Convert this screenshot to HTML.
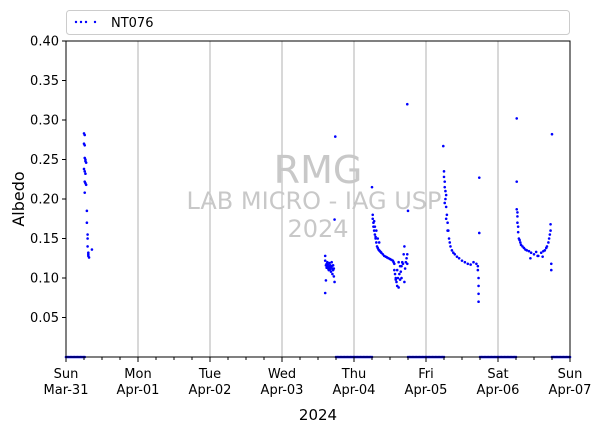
<!DOCTYPE html>
<html><head><meta charset="utf-8"><style>
body{margin:0;background:#fff;font-family:"Liberation Sans","DejaVu Sans",sans-serif}
svg text{font-family:"DejaVu Sans","Liberation Sans",sans-serif}
</style></head><body>
<svg id="chart" width="602" height="433" viewBox="0 0 602 433" xmlns="http://www.w3.org/2000/svg">
<rect width="602" height="433" fill="#fff"/>
<g id="grid"></g>
<g id="watermark" fill="#c8c8c8" text-anchor="middle">
<text x="318" y="183" font-size="38">RMG</text>
<text x="314" y="209" font-size="24">LAB MICRO - IAG USP</text>
<text x="318" y="237" font-size="24">2024</text>
</g>
<g id="marks"></g>
<rect x="66" y="41" width="504" height="316" fill="none" stroke="#000" stroke-width="1"/>
<g id="axes"></g>
<text x="318" y="420" font-size="15" text-anchor="middle">2024</text>
<text transform="translate(24,199) rotate(-90)" font-size="16" text-anchor="middle">Albedo</text>
<g>
<rect x="66.5" y="10.5" width="503" height="24" rx="3" fill="#fff" stroke="#ccc"/>
<g fill="#0000ff"><circle cx="76" cy="22" r="1.2"/><circle cx="81" cy="22" r="1.2"/><circle cx="86" cy="22" r="1.2"/><circle cx="95" cy="22" r="1.2"/></g>
<text x="111" y="27" font-size="13">NT076</text>
</g>
</svg>
<script>
const yTicks=[0.05,0.10,0.15,0.20,0.25,0.30,0.35,0.40];
const dayTicks=[0,1,2,3,4,5,6,7];
const dayNames=["Sun","Mon","Tue","Wed","Thu","Fri","Sat","Sun"];
const dateNames=["Mar-31","Apr-01","Apr-02","Apr-03","Apr-04","Apr-05","Apr-06","Apr-07"];
const zeroTimes=[0,0.02,0.04,0.06,0.08,0.10,0.12,0.14,0.16,0.18,0.20,0.22,0.24,0.26,
3.75,3.77,3.79,3.81,3.83,3.85,3.87,3.89,3.91,3.93,3.95,3.97,3.99,4.01,4.03,4.05,4.07,4.09,4.11,4.13,4.15,4.17,4.19,4.21,4.23,4.25,
4.75,4.77,4.79,4.81,4.83,4.85,4.87,4.89,4.91,4.93,4.95,4.97,4.99,5.01,5.03,5.05,5.07,5.09,5.11,5.13,5.15,5.17,5.19,5.21,5.23,5.25,
5.75,5.77,5.79,5.81,5.83,5.85,5.87,5.89,5.91,5.93,5.95,5.97,5.99,6.01,6.03,6.05,6.07,6.09,6.11,6.13,6.15,6.17,6.19,6.21,6.23,6.25,
6.75,6.77,6.79,6.81,6.83,6.85,6.87,6.89,6.91,6.93,6.95,6.97,6.99,7.0];
const times=[0.25,0.26,0.25,0.26,0.26,0.27,0.27,0.28,0.25,0.26,0.27,0.26,0.27,0.28,0.26,0.29,0.29,0.30,0.30,0.30,0.31,0.31,0.32,0.31,0.36,
3.60,3.60,3.61,3.62,3.62,3.63,3.63,3.64,3.64,3.65,
3.65,3.66,3.66,3.67,3.67,3.68,3.68,3.69,3.69,3.70,
3.70,3.71,3.71,3.72,3.72,3.73,3.61,3.60,3.73,3.74,
4.25,4.26,4.26,4.27,4.27,4.28,4.28,4.29,4.30,4.30,
4.31,4.32,4.33,4.34,4.35,4.36,4.37,4.38,4.40,4.42,
4.44,4.46,4.48,4.50,4.52,4.54,4.55,4.56,4.57,4.58,
4.59,4.60,4.61,4.62,4.63,4.64,4.65,4.66,4.67,4.68,
4.69,4.70,4.71,4.72,4.73,4.74,4.74,4.75,4.74,4.56,
4.58,4.62,4.66,4.70,4.60,4.64,4.29,4.31,4.33,4.35,
5.24,5.25,5.25,5.26,5.26,5.27,5.27,5.28,5.28,5.29,
5.30,5.31,5.32,5.33,5.34,5.36,5.38,5.40,5.43,5.46,
5.50,5.54,5.58,5.62,5.66,5.70,5.72,5.72,5.73,5.73,
5.73,5.73,5.74,5.74,5.26,5.28,5.30,
6.26,6.26,6.26,6.27,6.27,6.27,6.28,6.28,6.29,6.30,6.31,6.32,6.34,6.36,6.38,6.40,6.43,6.46,6.50,6.53,6.56,6.60,6.63,6.65,6.67,6.68,6.70,6.71,6.72,6.73,6.73,6.74,6.74,6.75,6.45,6.55,6.62];
const albedo=[.283,.281,.27,.268,.252,.25,.248,.246,.238,.235,.232,.222,.22,.218,.208,.185,.17,.155,.15,.14,.132,.128,.126,.13,.136,
.128,.122,.116,.113,.118,.115,.12,.112,.117,.11,
.114,.119,.113,.116,.111,.114,.108,.12,.115,.112,
.105,.11,.116,.112,.102,.095,.097,.081,.174,.279,
.215,.18,.175,.17,.165,.172,.16,.155,.15,.152,
.145,.14,.138,.136,.135,.134,.133,.132,.13,.128,
.127,.126,.125,.124,.123,.122,.12,.118,.105,.1,
.095,.09,.1,.12,.105,.098,.108,.115,.12,.118,
.13,.14,.112,.12,.125,.13,.32,.185,.118,.11,
.098,.088,.1,.095,.11,.115,.165,.16,.15,.145,
.267,.235,.228,.222,.215,.21,.2,.205,.19,.18,
.17,.16,.15,.145,.14,.135,.132,.13,.127,.125,
.122,.12,.118,.117,.12,.118,.115,.11,.1,.09,
.08,.07,.157,.227,.195,.175,.16,
.302,.222,.187,.183,.178,.17,.165,.158,.15,.148,.145,.142,.14,.138,.136,.135,.134,.132,.13,.133,.128,.132,.134,.135,.138,.14,.145,.15,.155,.16,.168,.118,.11,.282,.125,.128,.127];
const X0=66,X1=570,Y0=357,Y1=41;
const xs=d=>X0+(X1-X0)*d/7;
const ys=v=>Y0-(Y0-Y1)*v/0.4;
const NS="http://www.w3.org/2000/svg";
function mk(tag,attrs,parent){const e=document.createElementNS(NS,tag);for(const k in attrs)e.setAttribute(k,attrs[k]);parent.appendChild(e);return e;}
const grid=document.getElementById('grid'),axes=document.getElementById('axes'),marks=document.getElementById('marks');
dayTicks.forEach((d,i)=>{
 if(i>0&&i<7){const g=mk('line',{x1:xs(d),x2:xs(d),y1:Y1,y2:Y0,stroke:'#b0b0b0','stroke-width':1},grid);
 
 }
 const t=mk('line',{x1:xs(d),x2:xs(d),y1:Y0,y2:Y0+5,stroke:'#000'},axes);
 
 
 const l1=mk('text',{x:xs(d),y:378,'font-size':13,'text-anchor':'middle'},axes);l1.textContent=dayNames[i];
 
 
 const l2=mk('text',{x:xs(d),y:394,'font-size':13,'text-anchor':'middle'},axes);l2.textContent=dateNames[i];
 
 
 if(i<7)[0.25,0.5,0.75].forEach(f=>{const m=mk('line',{x1:xs(d+f),x2:xs(d+f),y1:Y0,y2:Y0+3,stroke:'#000'},axes);
 
 });
});
yTicks.forEach(v=>{
 const t=mk('line',{x1:X0-4,x2:X0,y1:ys(v),y2:ys(v),stroke:'#000'},axes);
 
 
 const l=mk('text',{x:X0-7,y:ys(v)+4.5,'font-size':13,'text-anchor':'end'},axes);l.textContent=v.toFixed(2);
 
 
});
zeroTimes.forEach(d=>{const c=mk('circle',{cx:xs(d),cy:ys(0),r:1.3,fill:'#0000ff'},marks);
 
 });
times.forEach((d,i)=>{const c=mk('circle',{cx:xs(d),cy:ys(albedo[i]),r:1.3,fill:'#0000ff'},marks);
 
 });
</script>
</body></html>
